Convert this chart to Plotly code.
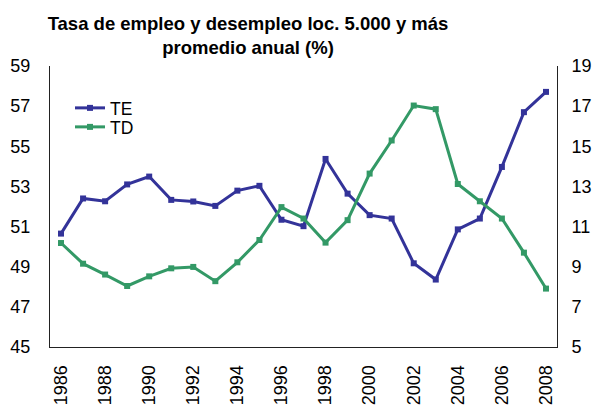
import plotly.graph_objects as go

years = list(range(1986, 2009))
te = [50.65, 52.4, 52.26, 53.1, 53.49, 52.33, 52.25, 52.03, 52.79, 53.03, 51.34, 51.02,
      54.37, 52.64, 51.57, 51.4, 49.17, 48.36, 50.86, 51.4, 53.97, 56.7, 57.71]
td = [10.18, 9.15, 8.61, 8.04, 8.52, 8.92, 8.99, 8.28, 9.22, 10.33, 11.97, 11.4,
      10.2, 11.32, 13.64, 15.29, 17.03, 16.85, 13.12, 12.26, 11.4, 9.7, 7.91]
tick_years = list(range(1986, 2009, 2))
left_ticks = list(range(45, 60, 2))
right_ticks = list(range(5, 20, 2))

BLUE = "#333399"
GREEN = "#339966"
FONT = "Liberation Sans, Arial, sans-serif"

W, H = 595, 406
L, R, T, B = 50, 557, 66, 347

fig = go.Figure()
fig.add_trace(go.Scatter(x=years, y=te, name="TE", mode="lines+markers", legend="legend",
                         line=dict(color=BLUE, width=3),
                         marker=dict(symbol="square", size=6, color=BLUE)))
fig.add_trace(go.Scatter(x=years, y=td, name="TD", mode="lines+markers", yaxis="y2",
                         legend="legend2",
                         line=dict(color=GREEN, width=3),
                         marker=dict(symbol="square", size=6, color=GREEN)))

def leg(yc):
    return dict(x=(70 - L) / (R - L), y=1 - (yc - 17 - T) / (B - T), xanchor="left", yanchor="top",
                bgcolor="rgba(0,0,0,0)", font=dict(size=17.5), tracegroupgap=0)

fig.update_layout(
    width=W, height=H,
    margin=dict(l=L, r=W - R, t=T, b=H - B, autoexpand=False),
    paper_bgcolor="white", plot_bgcolor="white",
    font=dict(family=FONT, size=18, color="black"),
    title=dict(text="<b>Tasa de empleo y desempleo loc. 5.000 y más<br>promedio anual (%)</b>",
               x=248 / W, xanchor="center", y=1 - 30 / H, yanchor="top",
               font=dict(family=FONT, size=18.5, color="black")),
    showlegend=True,
    legend=leg(107),
    legend2=leg(126),
    xaxis=dict(range=[1985.5, 2008.5], tickvals=tick_years, ticktext=[str(y) for y in tick_years],
               tickangle=-90, showgrid=False, zeroline=False, showline=True, automargin=False,
               linecolor="#222222", linewidth=1, ticks="", ticklabelstandoff=10),
    yaxis=dict(range=[45, 59], tickvals=left_ticks, showgrid=False, zeroline=False, automargin=False,
               showline=True, linecolor="#222222", linewidth=1, ticks="", ticklabelstandoff=15),
    yaxis2=dict(range=[5, 19], tickvals=right_ticks, overlaying="y", side="right", automargin=False,
                showgrid=False, zeroline=False, showline=True, linecolor="#222222",
                linewidth=1, ticks="", ticklabelstandoff=10),
)

fig.write_html("out.html", config={"displayModeBar": False},
               post_script="document.body.style.margin='0';")
